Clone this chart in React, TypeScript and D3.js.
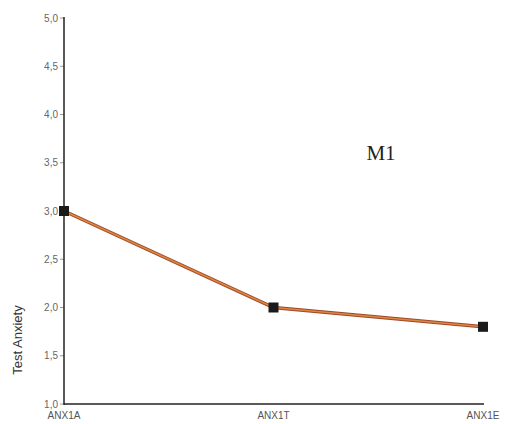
import React from "react";
import * as d3 from "d3";

const categories = ["ANX1A", "ANX1T", "ANX1E"];
const values = [3.0, 2.0, 1.8];
const yTicks = [1.0, 1.5, 2.0, 2.5, 3.0, 3.5, 4.0, 4.5, 5.0];
const yTitle = "Test Anxiety";
const panelLabel = "M1";

export default function App() {
  const W = 506, H = 424;
  const x = d3.scalePoint<string>().domain(categories).range([64, 483]);
  const y = d3.scaleLinear().domain([1, 5]).range([404, 18]);
  const line = d3.line<number>().x((_, i) => x(categories[i])!).y((d) => y(d));
  const fmt = (v: number) => v.toFixed(1).replace(".", ",");
  const path = line(values)!;
  return (
    <svg width={W} height={H} style={{ position: "absolute", left: 0, top: 0, background: "#fff" }}>
      {yTicks.map((t) => (
        <g key={t}>
          <line x1={60} x2={64} y1={y(t)} y2={y(t)} stroke="#999" strokeWidth={1} />
          <text x={58} y={y(t) + 3.5} textAnchor="end" fontFamily="Arial, Liberation Sans, sans-serif" fontSize={10} fill="#666">
            {fmt(t)}
          </text>
        </g>
      ))}
      <line x1={64} x2={64} y1={17} y2={405} stroke="#222" strokeWidth={1.5} />
      <line x1={64} x2={484} y1={404} y2={404} stroke="#222" strokeWidth={1.5} />
      {categories.map((c) => (
        <text key={c} x={x(c)!} y={419} textAnchor="middle" fontFamily="Arial, Liberation Sans, sans-serif" fontSize={10} fill="#555">
          {c}
        </text>
      ))}
      <text transform={`translate(22,${340}) rotate(-90)`} textAnchor="middle" fontFamily="Arial, Liberation Sans, sans-serif" fontSize={13} fill="#333">
        {yTitle}
      </text>
      <text x={381} y={160} textAnchor="middle" fontFamily="Liberation Serif, DejaVu Serif, serif" fontSize={21} fill="#222">
        {panelLabel}
      </text>
      <path d={path} fill="none" stroke="#9c4a2a" strokeWidth={3.5} />
      <path d={path} fill="none" stroke="#e0853f" strokeWidth={1.5} />
      {values.map((v, i) => (
        <rect key={i} x={x(categories[i])! - 5} y={y(v) - 5} width={10} height={10} fill="#1a1a1a" />
      ))}
    </svg>
  );
}
